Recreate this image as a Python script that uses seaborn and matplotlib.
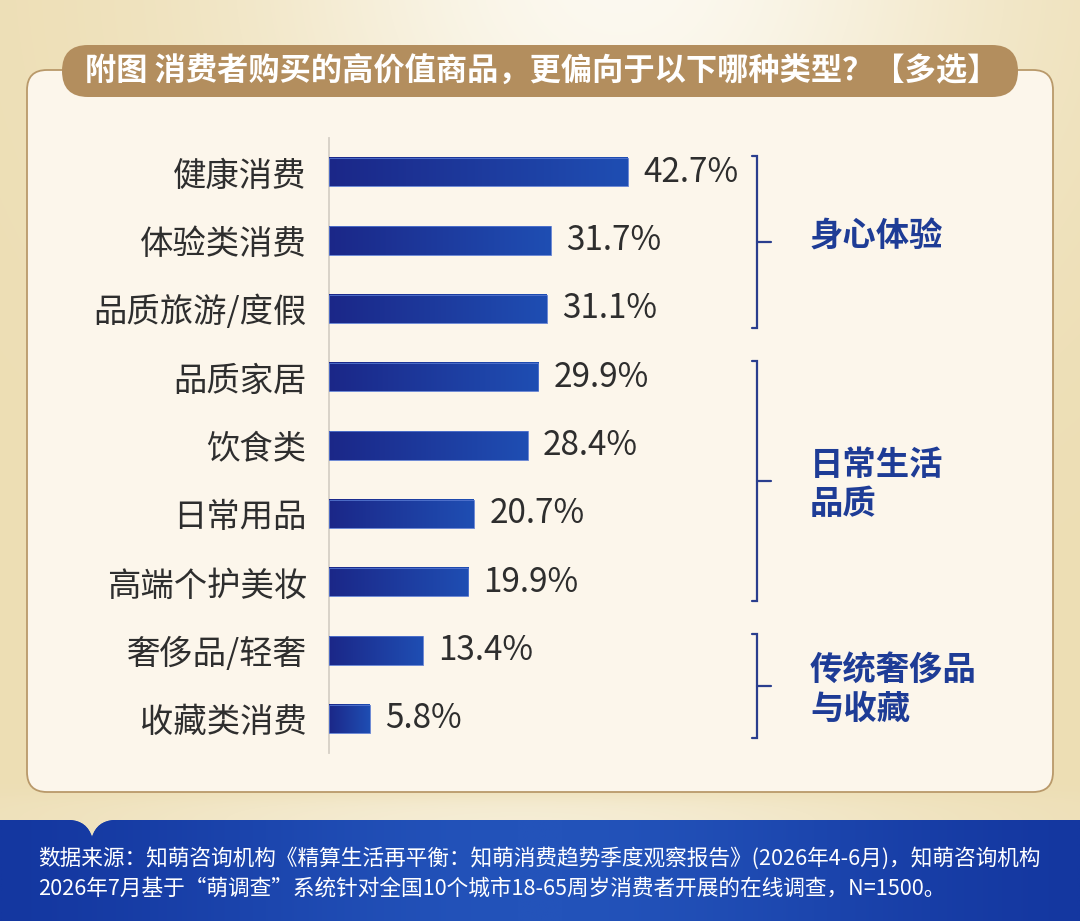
import numpy as np
import matplotlib
matplotlib.use("Agg")
import matplotlib.pyplot as plt
from matplotlib.patches import FancyBboxPatch, PathPatch
from matplotlib.path import Path
from matplotlib.colors import LinearSegmentedColormap
import pandas as pd
import seaborn as sns

# data
categories = ["健康消费", "体验类消费", "品质旅游/度假", "品质家居", "饮食类",
              "日常用品", "高端个护美妆", "奢侈品/轻奢", "收藏类消费"]
values = [42.7, 31.7, 31.1, 29.9, 28.4, 20.7, 19.9, 13.4, 5.8]
group_names = ["身心体验", "日常生活\n品质", "传统奢侈品\n与收藏"]
group_sizes = [3, 4, 2]

title = "附图 消费者购买的高价值商品，更偏向于以下哪种类型？【多选】"
source_lines = [
    "数据来源：知萌咨询机构《精算生活再平衡：知萌消费趋势季度观察报告》(2026年4-6月)，知萌咨询机构",
    "2026年7月基于“萌调查”系统针对全国10个城市18-65周岁消费者开展的在线调查，N=1500。",
]

sns.set_theme(style="white")
plt.rcParams['font.family'] = ['Noto Sans CJK SC', 'DejaVu Sans']

W, H = 1080, 921
fig = plt.figure(figsize=(W / 100, H / 100), dpi=100)

# background layer in pixel coords
bg = fig.add_axes([0, 0, 1, 1])
bg.set_xlim(0, W)
bg.set_ylim(H, 0)
bg.axis('off')

yy, xx = np.mgrid[0:H, 0:W]
gold = np.array([237, 222, 180]) / 255
light = np.array([252, 249, 240]) / 255
wt = np.exp(-((xx - 620) ** 2 / (2 * 260 ** 2) + (yy + 30) ** 2 / (2 * 240 ** 2)))
lower = 1 / (1 + np.exp(-(yy - 795) / 6.0))
wt = np.maximum(wt, 0.55 * np.exp(-(xx - 520) ** 2 / (2 * 300 ** 2)) * lower)
img = gold * (1 - wt[..., None]) + light * wt[..., None]
bg.imshow(img, extent=(0, W, H, 0), aspect='auto', zorder=0)

panel = FancyBboxPatch((27, 70), 1026, 722, boxstyle="round,pad=0,rounding_size=20",
                       facecolor="#FCF6EB", edgecolor="#B9996A", lw=1.3, zorder=1)
bg.add_patch(panel)

pill = FancyBboxPatch((62, 45), 956, 52, boxstyle="round,pad=0,rounding_size=26",
                      facecolor="#B38E5E", edgecolor="none", zorder=2)
bg.add_patch(pill)
bg.text(542, 71, title, color="white", fontsize=22.5, fontweight="bold",
        ha="center", va="center", zorder=3)

# blue footer band with small notch
verts = [(0, H), (0, 820), (70, 820), (87, 821), (92, 837), (97, 821), (114, 820),
         (W, 820), (W, H), (0, H)]
codes = [Path.MOVETO, Path.LINETO, Path.LINETO, Path.CURVE3, Path.CURVE3,
         Path.CURVE3, Path.CURVE3, Path.LINETO, Path.LINETO, Path.CLOSEPOLY]
band = PathPatch(Path(verts, codes), facecolor="#1A45AC", edgecolor="none", zorder=2)
bg.add_patch(band)
gx = np.linspace(-1, 1, 512)
band_grad = np.exp(-gx ** 2 / 0.5)[None, :]
band_cmap = LinearSegmentedColormap.from_list("band", ["#1437A0", "#2353BA"])
bim = bg.imshow(band_grad, extent=(0, W, H, 818), aspect='auto', cmap=band_cmap, zorder=2.5)
bim.set_clip_path(band)

for k, line in enumerate(source_lines):
    bg.text(38, 858 + 31 * k, line, color="white", fontsize=15.6, ha="left", va="center", zorder=3)
bg.set_xlim(0, W)
bg.set_ylim(H, 0)

# main bar chart
L, R, T, B = 329, 749, 138, 753
ax = fig.add_axes([L / W, 1 - B / H, (R - L) / W, (B - T) / H])
ax.set_facecolor("none")
df = pd.DataFrame({"category": categories, "value": values})
sns.barplot(data=df, x="value", y="category", orient="h", width=0.41,
            color="#1E3A9E", ax=ax, zorder=2)

bar_cmap = LinearSegmentedColormap.from_list("bars", ["#1B2788", "#1F4EB3"])
grad = np.linspace(0, 1, 256)[None, :]
for p in ax.patches:
    x0, y0, pw, ph = p.get_x(), p.get_y(), p.get_width(), p.get_height()
    ax.imshow(grad, extent=(x0, x0 + pw, y0 + ph, y0), aspect='auto', cmap=bar_cmap, zorder=3)
    p.set_facecolor("none")
    p.set_edgecolor("#5577D0")
    p.set_linewidth(0.6)
    p.set_zorder(4)

for i, v in enumerate(values):
    ax.annotate(f"{v}%", (v, i), xytext=(11, 0), textcoords="offset points",
                ha="left", va="center", fontsize=24, color="#2E2E2E")

ax.set_xlim(0, 60)
ax.set_ylim(8.5, -0.5)
ax.set_xticks([])
ax.set_yticks(range(len(categories)))
ax.set_yticklabels(categories, fontsize=24, color="#2E2E2E")
ax.tick_params(axis="y", length=0, pad=16)
ax.set_xlabel("")
ax.set_ylabel("")
for s in ["top", "right", "bottom"]:
    ax.spines[s].set_visible(False)
ax.spines["left"].set_color("#D6D0C6")
ax.spines["left"].set_linewidth(1.3)

# group brackets
trans = ax.get_yaxis_transform()
fx = lambda px: (px - L) / (R - L)
bcol = "#2A3E8E"
start = 0
for name, n in zip(group_names, group_sizes):
    top = start - 0.24
    bot = start + n - 1 + 0.28
    mid = (top + bot) / 2
    ax.plot([fx(752), fx(757), fx(757), fx(752)], [top, top, bot, bot],
            transform=trans, clip_on=False, color=bcol, lw=1.6, solid_joinstyle="miter")
    ax.plot([fx(757), fx(771)], [mid, mid], transform=trans, clip_on=False, color=bcol, lw=1.6)
    ty = mid + (0.06 if "\n" in name else -0.07)
    ax.text(fx(810), ty, name, transform=trans, ha="left", va="center",
            fontsize=24, fontweight="black", color="#1E3C96", linespacing=1.25)
    start += n

fig.savefig("out.png", dpi=100)
